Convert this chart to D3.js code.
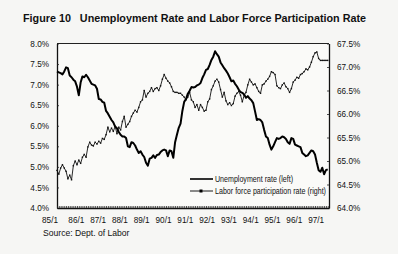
<!DOCTYPE html>
<html><head><meta charset="utf-8">
<script src="https://cdn.jsdelivr.net/npm/d3@7"></script>
<style>
html,body{margin:0;padding:0;background:#f6f6f4;}
svg{display:block;font-family:"Liberation Sans",Arial,sans-serif;}
</style></head><body>
<script>
const title = "Figure 10   Unemployment Rate and Labor Force Participation Rate";
const source = "Source: Dept. of Labor";
const xTickLabels = ["85/1","86/1","87/1","88/1","89/1","90/1","91/1","92/1","93/1","94/1","95/1","96/1","97/1"];
const leftTicks = [4.0,4.5,5.0,5.5,6.0,6.5,7.0,7.5,8.0];
const rightTicks = [64.0,64.5,65.0,65.5,66.0,66.5,67.0,67.5];
const seriesNames = ["Unemployment rate (left)","Labor force participation rate (right)"];
// monthly, Jan 1985 .. Jun 1997
const unemployment = [
7.32,7.30,7.28,7.25,7.32,7.42,7.40,7.22,7.18,7.12,7.08,6.95,
6.74,7.05,7.20,7.18,7.24,7.18,7.10,7.02,7.00,6.98,6.90,6.65,
6.64,6.58,6.56,6.36,6.30,6.22,6.14,6.08,5.98,5.94,5.85,5.78,
5.74,5.74,5.70,5.50,5.48,5.60,5.58,5.52,5.42,5.34,5.38,5.30,
5.24,5.10,5.03,5.20,5.22,5.28,5.22,5.29,5.30,5.36,5.40,5.42,
5.40,5.26,5.40,5.38,5.22,5.60,5.78,5.95,6.05,6.36,6.58,6.65,
6.78,6.85,6.94,6.93,6.94,6.98,7.00,7.04,7.16,7.25,7.36,7.38,
7.48,7.60,7.68,7.81,7.74,7.68,7.54,7.47,7.40,7.34,7.27,7.18,
7.08,7.10,7.02,6.96,6.88,6.82,6.80,6.76,6.68,6.72,6.66,6.62,
6.55,6.35,6.14,6.16,6.14,6.08,5.90,5.74,5.70,5.54,5.42,5.50,
5.60,5.70,5.68,5.70,5.74,5.72,5.68,5.60,5.56,5.70,5.68,5.54,
5.52,5.50,5.48,5.34,5.30,5.26,5.28,5.34,5.40,5.38,5.30,5.10,
4.92,4.88,4.98,4.82,4.92,4.94];
const participation = [
64.80,64.72,64.85,64.92,64.85,64.78,64.62,64.70,64.60,64.90,65.00,64.92,
65.02,64.95,65.08,65.14,65.08,65.30,65.40,65.34,65.32,65.40,65.36,65.42,
65.38,65.48,65.46,65.56,65.72,65.62,65.70,65.63,65.74,65.58,65.72,65.66,
65.84,65.95,65.72,65.78,65.84,65.95,66.02,66.08,66.04,66.14,66.26,66.30,
66.50,66.36,66.44,66.48,66.56,66.48,66.54,66.56,66.50,66.60,66.74,66.84,
66.76,66.70,66.66,66.58,66.48,66.46,66.46,66.44,66.44,66.40,66.36,66.30,
66.36,66.46,66.30,66.26,66.14,66.20,66.08,66.20,66.14,66.06,66.08,66.26,
66.32,66.52,66.60,66.70,66.74,66.68,66.52,66.36,66.46,66.28,66.20,66.24,
66.18,66.22,66.38,66.44,66.48,66.40,66.26,66.40,66.46,66.62,66.74,66.68,
66.62,66.64,66.56,66.48,66.44,66.62,66.64,66.70,66.74,66.80,66.90,66.88,
66.84,66.60,66.56,66.54,66.62,66.66,66.58,66.54,66.46,66.54,66.68,66.72,
66.78,66.76,66.84,66.86,66.90,66.96,66.94,67.00,67.10,67.22,67.30,67.32,
67.18,67.14,67.14,67.14,67.14,67.14];

const W = 398, H = 254;
const L = 57, R = 329, T = 43.5, B = 208;
const svg = d3.select("body").append("svg").attr("width", W).attr("height", H);

const x = d3.scaleLinear().domain([0, 149.7]).range([L, R]);
const yL = d3.scaleLinear().domain([4, 8]).range([B, T]);
const yR = d3.scaleLinear().domain([64, 67.5]).range([B, T]);

svg.append("rect").attr("x", L).attr("y", T).attr("width", R - L).attr("height", B - T)
  .attr("fill", "#fafaf8");

// title
svg.append("text").attr("x", 23).attr("y", 22).attr("font-size", 10.2).attr("font-weight", "bold")
  .attr("fill", "#111").attr("xml:space", "preserve").style("white-space", "pre")
  .attr("textLength", 343).attr("lengthAdjust", "spacingAndGlyphs").text(title);

// axes
const gL = svg.append("g").attr("transform", `translate(${L},0)`)
  .call(d3.axisLeft(yL).tickValues(leftTicks).tickSizeInner(-2).tickSizeOuter(0)
    .tickPadding(8).tickFormat(d => d3.format(".1f")(d) + "%"));
const gR = svg.append("g").attr("transform", `translate(${R},0)`)
  .call(d3.axisRight(yR).tickValues(rightTicks).tickSizeInner(-2).tickSizeOuter(0)
    .tickPadding(8).tickFormat(d => d3.format(".1f")(d) + "%"));
const gB = svg.append("g").attr("transform", `translate(0,${B})`)
  .call(d3.axisBottom(x).tickValues(d3.range(0, 150)).tickSizeInner(-2).tickSizeOuter(0).tickFormat(""));
[gL, gR, gB].forEach(g => {
  g.select(".domain").attr("stroke", "#111").attr("stroke-width", 1.3);
  g.selectAll(".tick line").attr("stroke", "#222").attr("stroke-width", 0.8);
  g.selectAll("text").attr("font-size", 8.2).attr("fill", "#111")
    .attr("font-family", "'Liberation Sans', Arial, sans-serif");
});
// top border
svg.append("line").attr("x1", L).attr("x2", R).attr("y1", T).attr("y2", T)
  .attr("stroke", "#222").attr("stroke-width", 1);

// x labels
svg.append("g").selectAll("text").data(xTickLabels).join("text")
  .attr("x", (d, i) => i === 0 ? x(0) - 7 : x(i * 12) - 2.5)
  .attr("y", 223).attr("text-anchor", "middle").attr("font-size", 8.2).attr("fill", "#111")
  .text(d => d);

// lines
const urLine = d3.line().x((d, i) => x(i)).y(d => yL(d));
const lfLine = d3.line().x((d, i) => x(i)).y(d => yR(d));
svg.append("path").datum(participation).attr("d", lfLine).attr("fill", "none")
  .attr("stroke", "#111").attr("stroke-width", 0.9);
svg.append("g").selectAll("rect").data(participation).join("rect")
  .attr("x", (d, i) => x(i) - 0.7).attr("y", d => yR(d) - 0.7)
  .attr("width", 1.4).attr("height", 1.4).attr("fill", "#111");
svg.append("path").datum(unemployment).attr("d", urLine).attr("fill", "none")
  .attr("stroke", "#000").attr("stroke-width", 2).attr("stroke-linejoin", "round");

// legend
const lg = svg.append("g");
lg.append("line").attr("x1", 190).attr("x2", 213).attr("y1", 179).attr("y2", 179)
  .attr("stroke", "#000").attr("stroke-width", 1.6);
lg.append("line").attr("x1", 190).attr("x2", 213).attr("y1", 191).attr("y2", 191)
  .attr("stroke", "#000").attr("stroke-width", 0.9);
lg.append("rect").attr("x", 199.5).attr("y", 189.5).attr("width", 3).attr("height", 3).attr("fill", "#000");
const legendWidths = [78, 111];
lg.selectAll("text").data(seriesNames).join("text")
  .attr("x", 215).attr("y", (d, i) => 182 + i * 12).attr("font-size", 8.2).attr("fill", "#111")
  .attr("textLength", (d, i) => legendWidths[i]).attr("lengthAdjust", "spacingAndGlyphs")
  .text(d => d);

// source
svg.append("text").attr("x", 43).attr("y", 236).attr("font-size", 8.6).attr("fill", "#111").text(source);
</script>
</body></html>
